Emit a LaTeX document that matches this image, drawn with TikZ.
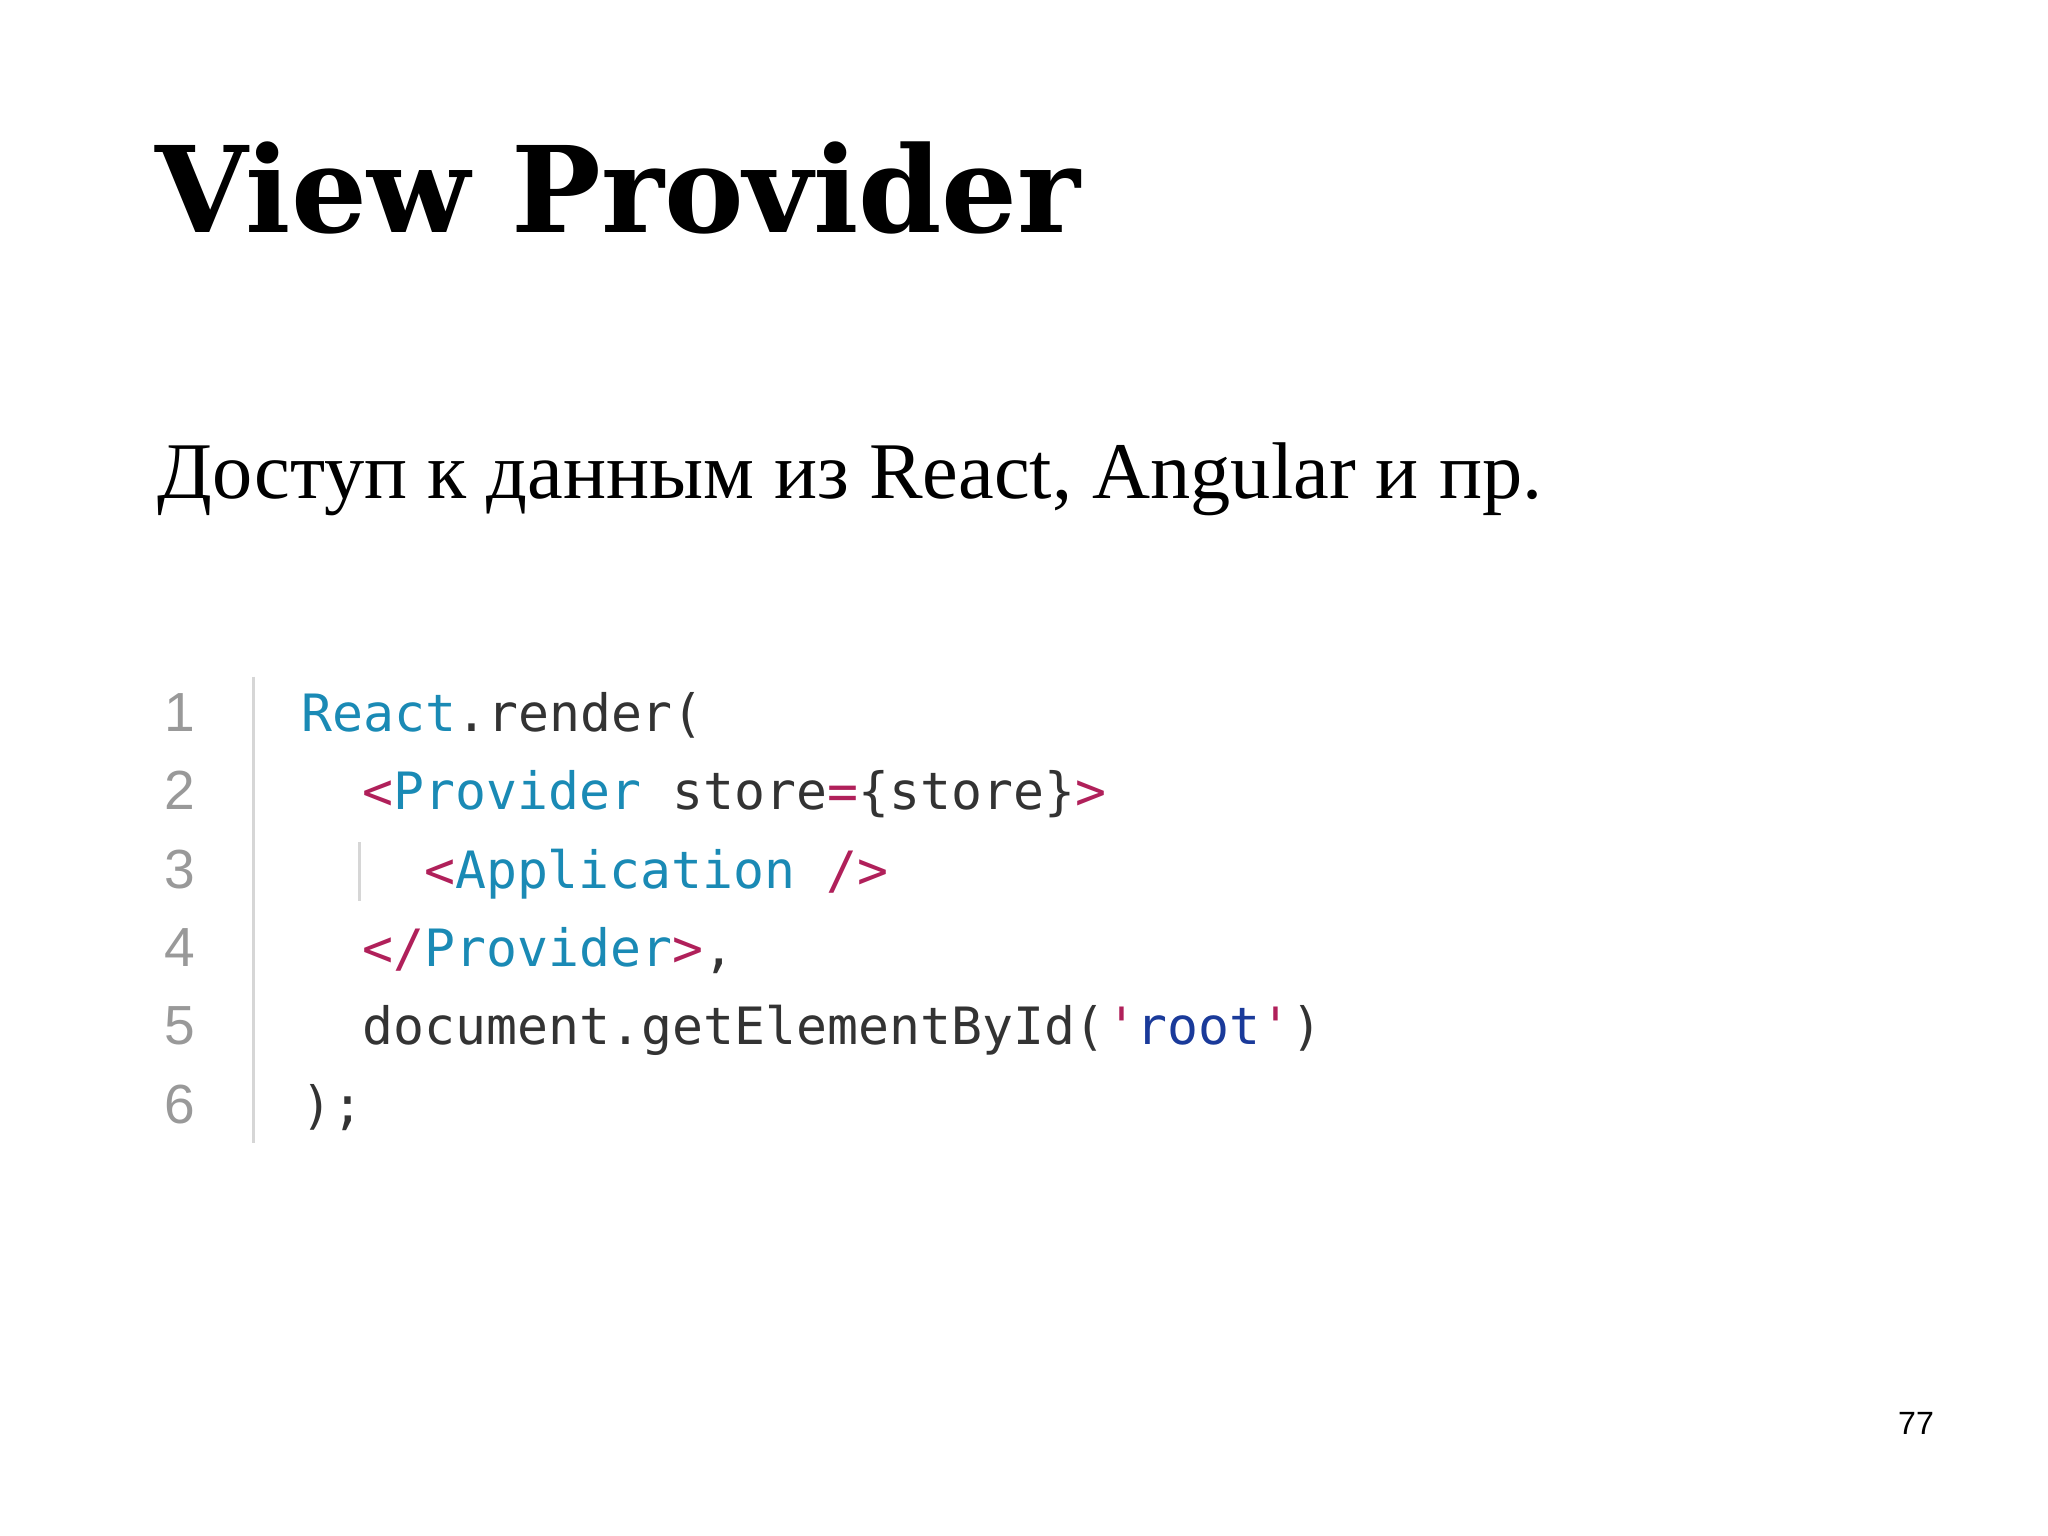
\documentclass[tikz,border=0pt]{standalone}
\usepackage{fontspec}
\setmainfont{Liberation Serif}
\newfontfamily\titlefont{DejaVu Serif}
\newfontfamily\codefont{DejaVu Sans Mono}
\newfontfamily\pgfont{Liberation Sans}
\definecolor{kw}{HTML}{1A8AB5}
\definecolor{tg}{HTML}{B0205A}
\definecolor{st}{HTML}{1A3A9A}
\definecolor{tx}{HTML}{333333}
\definecolor{ln}{HTML}{999999}
\tikzset{code/.style={anchor=base west,inner sep=0,font=\codefont\fontsize{11.2pt}{13pt}\selectfont,text=tx},
lnum/.style={anchor=base,inner sep=0,font=\pgfont\fontsize{12pt}{14pt}\selectfont,text=ln}}
\begin{document}
\begin{tikzpicture}[x=0.01cm,y=-0.01cm]
\useasboundingbox (0,0) rectangle (1568,1176);
\fill[white] (0,0) rectangle (1568,1176);
\node[anchor=base west,inner sep=0,font=\titlefont\bfseries\fontsize{26pt}{30pt}\selectfont] (title) at (118,178) {View Provider};
\node[anchor=base west,inner sep=0,font=\fontsize{17.5pt}{20pt}\selectfont] (sub) at (120,382) {Доступ к данным из React, Angular и пр.};
\draw[ln!40,line width=0.6pt] (194,518) -- (194,875);
\draw[ln!40,line width=0.6pt] (275,645) -- (275,690);
\foreach \i/\y in {1/560,2/620,3/680,4/740,5/800,6/860}
  \node[lnum] (n\i) at (138,\y) {\i};
\node[code] (c1) at (230,560) {\textcolor{kw}{React}.render(};
\node[code] (c2) at (277,620) {\textcolor{tg}{<}\textcolor{kw}{Provider} store\textcolor{tg}{=}\{store\}\textcolor{tg}{>}};
\node[code] (c3) at (324,680) {\textcolor{tg}{<}\textcolor{kw}{Application} \textcolor{tg}{/>}};
\node[code] (c4) at (277,740) {\textcolor{tg}{</}\textcolor{kw}{Provider}\textcolor{tg}{>},};
\node[code] (c5) at (277,800) {document.getElementById(\textcolor{tg}{'}\textcolor{st}{root}\textcolor{tg}{'})};
\node[code] (c6) at (230,860) {);};
\node[anchor=base,inner sep=0,font=\pgfont\fontsize{7pt}{8pt}\selectfont] (pg) at (1467,1098) {77};
\end{tikzpicture}
\end{document}
